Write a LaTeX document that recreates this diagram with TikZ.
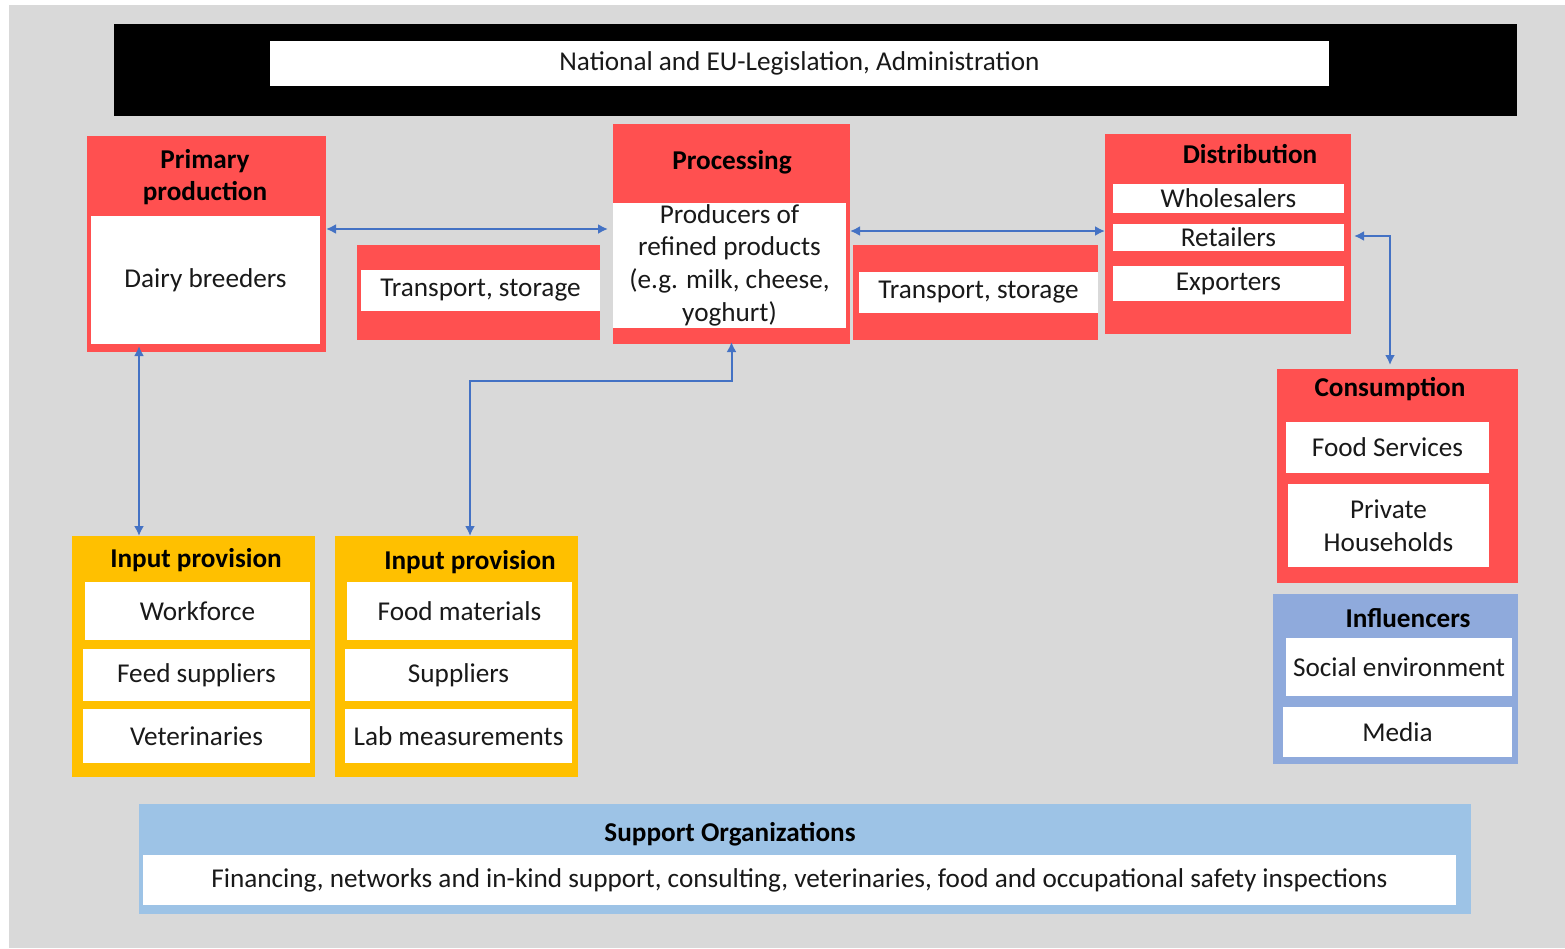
\documentclass[tikz,border=0pt]{standalone}
\usepackage{fontspec}
\setmainfont{Carlito}
\usetikzlibrary{arrows.meta}
\definecolor{bgGrey}{RGB}{217,217,217}
\definecolor{boxRed}{RGB}{255,80,80}
\definecolor{inputOrange}{RGB}{255,192,0}
\definecolor{inflBlue}{RGB}{143,170,220}
\definecolor{supportBlue}{RGB}{157,195,230}
\definecolor{arrowBlue}{RGB}{68,114,196}
\definecolor{textGrey}{RGB}{25,25,25}

\begin{document}
\begin{tikzpicture}[x = 1pt, y = -1pt, font = \fontsize{27.2}{32.7}\selectfont, text = textGrey]
\tikzstyle{boxStyle} = [shape = rectangle, inner sep = 0pt, outer sep = 0pt]
\tikzstyle{redStyle} = [boxStyle, fill = boxRed]
\tikzstyle{whiteStyle} = [boxStyle, fill = white, align = center]
\tikzstyle{titleStyle} = [inner sep = 0pt, align = center, text = black, font = \fontsize{27.2}{32.7}\selectfont\bfseries]
\tikzstyle{linkStyle} = [draw = arrowBlue, line width = 2pt, {Latex[length = 10pt, width = 10pt]}-{Latex[length = 10pt, width = 10pt]}]
\useasboundingbox (0,0) rectangle (1565,948);
\fill[white] (0,0) rectangle (1565,948);
\fill[bgGrey] (9,5) rectangle (1565,948);
\node[boxStyle, fill = black, minimum width = 1403, minimum height = 92] (law) at (815.5,70) {};
\node[whiteStyle, minimum width = 1059, minimum height = 45] (lawBox) at (799.5,63.5) {National and EU-Legislation, Administration};
\node[redStyle, minimum width = 239, minimum height = 216] (prim) at (206.5,244) {};
\node[titleStyle] (primTitle) at (205,177) {Primary\\production};
\node[whiteStyle, minimum width = 229, minimum height = 128] (primBox) at (205.5,280) {Dairy breeders};
\node[redStyle, minimum width = 243, minimum height = 95] (trans1) at (478.5,292.5) {};
\node[whiteStyle, minimum width = 239, minimum height = 41] (trans1Box) at (480.5,290.5) {Transport, storage};
\node[redStyle, minimum width = 237, minimum height = 220] (proc) at (731.5,234) {};
\node[titleStyle] (procTitle) at (732,162) {Processing};
\node[whiteStyle, minimum width = 233, minimum height = 125] (procBox) at (729.5,265) {Producers of\\refined products\\(e.g. milk, cheese,\\yoghurt)};
\node[redStyle, minimum width = 245, minimum height = 95] (trans2) at (975.5,292.5) {};
\node[whiteStyle, minimum width = 239, minimum height = 41] (trans2Box) at (978.5,292.5) {Transport, storage};
\node[redStyle, minimum width = 246, minimum height = 200] (dist) at (1228,234) {};
\node[titleStyle] (distTitle) at (1250,154) {Distribution};
\node[whiteStyle, minimum width = 231, minimum height = 29] (whole) at (1228.5,198.5) {Wholesalers};
\node[whiteStyle, minimum width = 231, minimum height = 27] (retail) at (1228.5,237.5) {Retailers};
\node[whiteStyle, minimum width = 231, minimum height = 35] (export) at (1228.5,283.5) {Exporters};
\node[redStyle, minimum width = 241, minimum height = 214] (cons) at (1397.5,476) {};
\node[titleStyle] (consTitle) at (1390,389) {Consumption};
\node[whiteStyle, minimum width = 203, minimum height = 51] (foodServ) at (1387.5,447.5) {Food Services};
\node[whiteStyle, minimum width = 201, minimum height = 83] (priv) at (1388.5,525.5) {Private\\Households};
\node[boxStyle, fill = inflBlue, minimum width = 245, minimum height = 170] (infl) at (1395.5,679) {};
\node[titleStyle] (inflTitle) at (1408,618) {Influencers};
\node[whiteStyle, minimum width = 226, minimum height = 58] (social) at (1399,667) {Social environment};
\node[whiteStyle, minimum width = 229, minimum height = 50] (media) at (1397.5,732) {Media};
\node[boxStyle, fill = inputOrange, minimum width = 243, minimum height = 241] (inp1) at (193.5,656.5) {};
\node[titleStyle] (inp1Title) at (196,560) {Input provision};
\node[whiteStyle, minimum width = 225, minimum height = 58] (work) at (197.5,611) {Workforce};
\node[whiteStyle, minimum width = 227, minimum height = 52] (feed) at (196.5,675) {Feed suppliers};
\node[whiteStyle, minimum width = 227, minimum height = 54] (vet) at (196.5,736) {Veterinaries};
\node[boxStyle, fill = inputOrange, minimum width = 243, minimum height = 241] (inp2) at (456.5,656.5) {};
\node[titleStyle] (inp2Title) at (470,562) {Input provision};
\node[whiteStyle, minimum width = 225, minimum height = 58] (foodMat) at (459.5,611) {Food materials};
\node[whiteStyle, minimum width = 227, minimum height = 52] (suppl) at (458.5,675) {Suppliers};
\node[whiteStyle, minimum width = 227, minimum height = 54] (lab) at (458.5,736) {Lab measurements};
\node[boxStyle, fill = supportBlue, minimum width = 1332, minimum height = 110] (supp) at (805,859) {};
\node[titleStyle] (suppTitle) at (730,834) {Support Organizations};
\node[whiteStyle, minimum width = 1313, minimum height = 50] (suppBox) at (799.5,880) {Financing, networks and in-kind support, consulting, veterinaries, food and occupational safety inspections};
\draw[linkStyle, shorten > = 5pt] ([yshift = 15]prim.east) -- ([yshift = 5]proc.west);
\draw[linkStyle] ([yshift = 3]proc.east) -- ([yshift = 3]dist.east -| dist.west);
\draw[linkStyle, shorten < = 3pt, shorten > = 4pt] ([yshift = -2]dist.east) -| ([xshift = -7.5]cons.north);
\draw[linkStyle, shorten < = -6pt] ([xshift = -67.5]prim.south) -- ([xshift = -54.5]inp1.north);
\draw[linkStyle, shorten < = -2pt] (proc.south) -- ++(0,37) -| ([xshift = 13.5]inp2.north);
\end{tikzpicture}
\end{document}
